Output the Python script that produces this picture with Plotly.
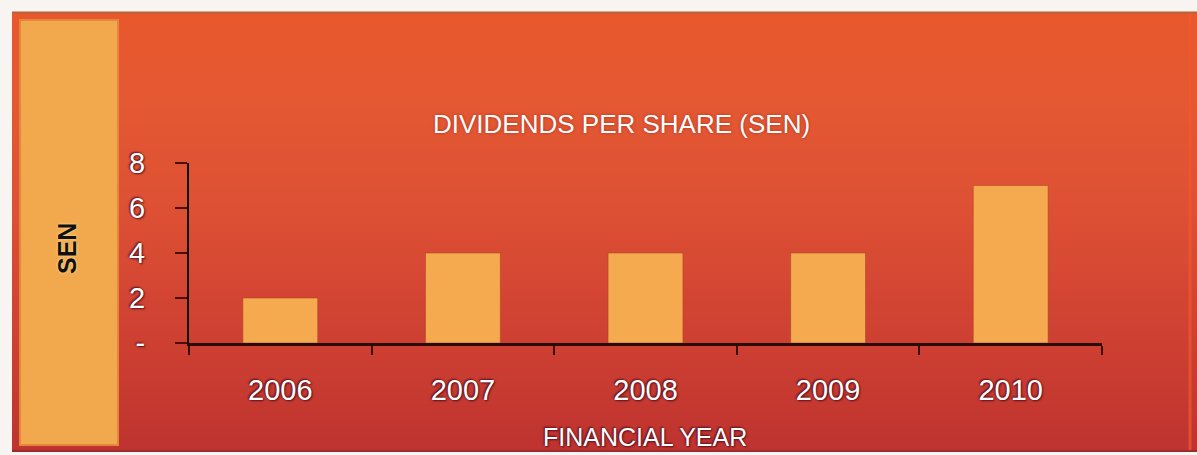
import plotly.graph_objects as go

# Data
years = ["2006", "2007", "2008", "2009", "2010"]
dividends_sen = [2, 4, 4, 4, 7]
y_tick_values = [0, 2, 4, 6, 8]
y_tick_labels = ["-", "2", "4", "6", "8"]

W, H = 1197, 455
# plot area in pixels
PL, PR, PT, PB = 189, 1102, 163, 343


def px_x(x):
    return (x - PL) / (PR - PL)


def px_y(y):
    return (PB - y) / (PB - PT)


def lerp_color(stops, t):
    for (t0, c0), (t1, c1) in zip(stops, stops[1:]):
        if t0 <= t <= t1:
            f = (t - t0) / (t1 - t0) if t1 > t0 else 0
            return tuple(round(a + (b - a) * f) for a, b in zip(c0, c1))
    return stops[-1][1]


# vertical background gradient of the panel
grad_stops = [
    (0.0, (233, 88, 45)),
    (0.2, (228, 88, 50)),
    (0.45, (221, 80, 52)),
    (0.7, (208, 66, 50)),
    (0.88, (198, 57, 48)),
    (1.0, (190, 50, 48)),
]

shapes = []
top, bottom = 12, 451
step = 4
yy = top
while yy < bottom:
    t = (yy - top) / (bottom - top)
    r, g, b = lerp_color(grad_stops, t)
    shapes.append(dict(
        type="rect", xref="paper", yref="paper", layer="below",
        x0=px_x(12), x1=px_x(W + 2), y0=px_y(min(yy + step + 1, bottom)), y1=px_y(yy),
        fillcolor=f"rgb({r},{g},{b})", line=dict(width=0),
    ))
    yy += step

# panel edges
shapes.append(dict(type="line", xref="paper", yref="paper", layer="below",
                   x0=px_x(12), x1=px_x(W + 2), y0=px_y(12.5), y1=px_y(12.5),
                   line=dict(color="#b8623c", width=2)))
shapes.append(dict(type="line", xref="paper", yref="paper", layer="below",
                   x0=px_x(12), x1=px_x(W + 2), y0=px_y(451), y1=px_y(451),
                   line=dict(color="#9c2c2c", width=2)))
shapes.append(dict(type="line", xref="paper", yref="paper", layer="below",
                   x0=px_x(1190), x1=px_x(1190), y0=px_y(14), y1=px_y(450),
                   line=dict(color="rgba(240,90,45,0.7)", width=3)))

# left label band
shapes.append(dict(type="rect", xref="paper", yref="paper", layer="below",
                   x0=px_x(20), x1=px_x(118), y0=px_y(445), y1=px_y(20),
                   fillcolor="#f2a84c", line=dict(color="#e4873a", width=2)))

fig = go.Figure()
fig.add_trace(go.Bar(
    x=years, y=dividends_sen, width=0.41,
    marker=dict(color="#f5aa50", line=dict(color="rgba(170,70,35,0.55)", width=1)),
    hoverinfo="x+y",
))

halo = "1px 1px 2px #5a0f1c, -1px -1px 2px #5a0f1c"
white_font = dict(family="Liberation Sans, Arial, sans-serif", color="#ffffff", shadow=halo)

annotations = [
    dict(text="DIVIDENDS PER SHARE (SEN)", xref="paper", yref="paper",
         x=px_x(621), y=px_y(124), xanchor="center", yanchor="middle", showarrow=False,
         font=dict(family="Liberation Sans, Arial, sans-serif", size=26, color="#ffffff",
                   shadow="0px 0px 3px #a8301c")),
    dict(text="FINANCIAL YEAR", xref="paper", yref="paper",
         x=px_x(645), y=px_y(437), xanchor="center", yanchor="middle", showarrow=False,
         font=dict(white_font, size=25)),
    dict(text="<b>SEN</b>", xref="paper", yref="paper", textangle=-90,
         x=px_x(67), y=px_y(249), xanchor="center", yanchor="middle", showarrow=False,
         font=dict(family="Liberation Sans, Arial, sans-serif", size=25, color="#111111",
                   shadow="0px 0px 3px #ffe39a")),
]

fig.update_layout(
    width=W, height=H, autosize=False,
    margin=dict(l=PL, r=W - PR, t=PT, b=H - PB, pad=0),
    paper_bgcolor="#f7f4f2", plot_bgcolor="rgba(0,0,0,0)",
    showlegend=False, shapes=shapes, annotations=annotations,
    xaxis=dict(
        type="category", categoryorder="array", categoryarray=years,
        range=[-0.5, 4.5], showgrid=False, zeroline=False,
        showline=True, linecolor="#2a0a06", linewidth=3,
        ticks="outside", tickson="boundaries", ticklen=9, tickwidth=2, tickcolor="#3a0e08",
        tickfont=dict(white_font, size=29), ticklabelstandoff=19,
    ),
    yaxis=dict(
        range=[0, 8], tickmode="array", tickvals=y_tick_values, ticktext=y_tick_labels,
        showgrid=False, zeroline=False,
        showline=True, linecolor="#0d0504", linewidth=2,
        ticks="outside", ticklen=12, tickwidth=1.5, tickcolor="#4a1008",
        tickfont=dict(white_font, size=29), ticklabelstandoff=24,
    ),
)

fig.write_html("out.html")
